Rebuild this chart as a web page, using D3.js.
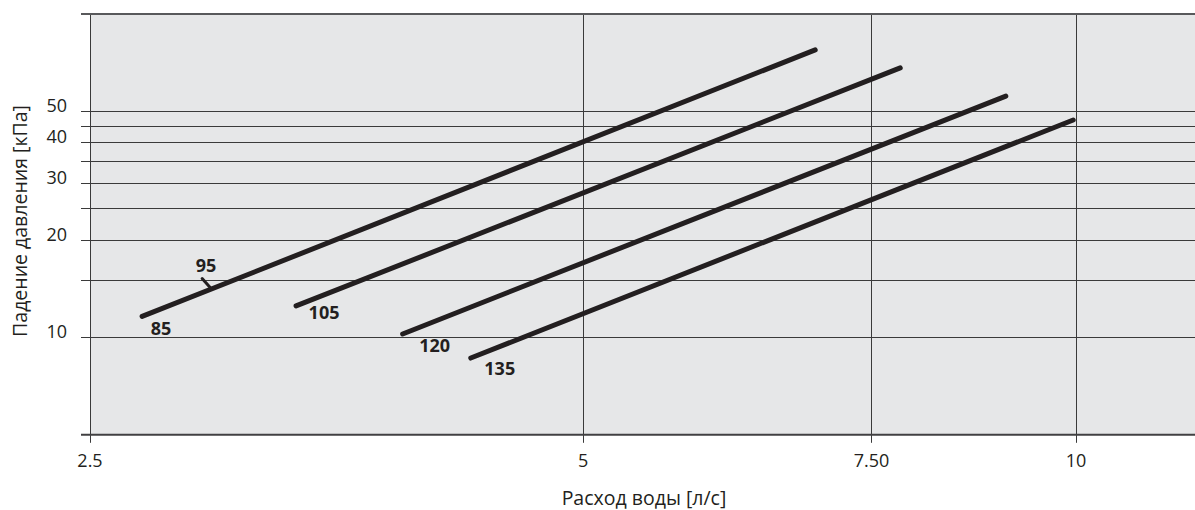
<!DOCTYPE html>
<html>
<head>
<meta charset="utf-8">
<script src="https://cdn.jsdelivr.net/npm/d3@7"></script>
<style>
  html, body { margin: 0; padding: 0; background: #ffffff; }
  svg { display: block; }
  text { font-family: "Open Sans", "Noto Sans", sans-serif; fill: #231f20; }
</style>
</head>
<body>
<svg id="chart" width="1195" height="510"></svg>
<script>
// ---- data ----
const xDomain = [2.5, 11.82];
const yDomain = [5, 100];
const xTickValues = [2.5, 5, 7.5, 10];
const xTickLabels = ["2.5", "5", "7.50", "10"];
const yGridValues = [10, 15, 20, 25, 30, 35, 40, 45, 50];
const yTickValues = [10, 20, 30, 40, 50];
const yTickLabels = ["10", "20", "30", "40", "50"];
const seriesNames = ["85", "105", "120", "135"];
const flowStart = [2.69, 3.34, 3.88, 4.27];
const flowEnd = [6.93, 7.81, 9.06, 9.96];
const dropStart = [11.6, 12.5, 10.24, 8.63];
const dropEnd = [77.2, 67.9, 55.6, 46.9];
const markerName = "95";
const markerFlow = 2.96;
const xTitle = "Расход воды [л/с]";
const yTitle = "Падение давления [кПа]";

// ---- layout ----
const plotL = 90, plotR = 1195, plotT = 13.5, plotB = 434.8;
const labelOffset = [[19, 12], [28, 6], [32, 11], [29, 10]];

const svg = d3.select("#chart");
const x = d3.scaleLog().domain(xDomain).range([plotL, plotR]);
const y = d3.scaleLog().domain(yDomain).range([plotB, plotT]);

// background
svg.append("rect").attr("x", plotL).attr("y", plotT)
  .attr("width", plotR - plotL).attr("height", plotB - plotT)
  .attr("fill", "#e6e7e8");

// horizontal grid + left ticks
svg.append("g").selectAll("line").data(yGridValues).enter().append("line")
  .attr("x1", plotL - 9).attr("x2", plotR)
  .attr("y1", d => Math.round(y(d)) + 0.5).attr("y2", d => Math.round(y(d)) + 0.5)
  .attr("stroke", "#3a3a3a").attr("stroke-width", 1);

// vertical grid + bottom ticks
svg.append("g").selectAll("line").data(xTickValues).enter().append("line")
  .attr("x1", d => Math.round(x(d)) + 0.5).attr("x2", d => Math.round(x(d)) + 0.5)
  .attr("y1", plotT).attr("y2", plotB + 8)
  .attr("stroke", "#3a3a3a").attr("stroke-width", 1);

// top and bottom borders
svg.append("line").attr("x1", plotL - 9).attr("x2", plotR)
  .attr("y1", 14).attr("y2", 14).attr("stroke", "#58595b").attr("stroke-width", 2);
svg.append("line").attr("x1", plotL - 9).attr("x2", plotR)
  .attr("y1", plotB).attr("y2", plotB).attr("stroke", "#414042").attr("stroke-width", 2);

// y tick labels
svg.append("g").selectAll("text").data(yTickValues).enter().append("text")
  .attr("x", 67).attr("y", d => y(d) + 1)
  .attr("text-anchor", "end")
  .attr("font-size", 18)
  .text((d, i) => yTickLabels[i]);

// x tick labels
svg.append("g").selectAll("text").data(xTickValues).enter().append("text")
  .attr("x", d => x(d)).attr("y", 467)
  .attr("text-anchor", "middle")
  .attr("font-size", 18)
  .text((d, i) => xTickLabels[i]);

// axis titles
svg.append("text").attr("x", 644).attr("y", 505)
  .attr("text-anchor", "middle").attr("font-size", 19.5).text(xTitle);
svg.append("text")
  .attr("transform", "translate(27,221) rotate(-90)")
  .attr("text-anchor", "middle").attr("font-size", 19.5).text(yTitle);

// series lines
const lines = seriesNames.map((n, i) => ({
  name: n,
  pts: [[flowStart[i], dropStart[i]], [flowEnd[i], dropEnd[i]]]
}));
const lineGen = d3.line().x(d => x(d[0])).y(d => y(d[1]));
svg.append("g").selectAll("path").data(lines).enter().append("path")
  .attr("d", d => lineGen(d.pts))
  .attr("fill", "none").attr("stroke", "#231f20")
  .attr("stroke-width", 5).attr("stroke-linecap", "round");

// series labels
svg.append("g").selectAll("text").data(lines).enter().append("text")
  .attr("x", (d, i) => x(d.pts[0][0]) + labelOffset[i][0])
  .attr("y", (d, i) => y(d.pts[0][1]) + labelOffset[i][1])
  .attr("text-anchor", "middle").attr("dominant-baseline", "central")
  .attr("font-size", 18).attr("font-weight", "bold")
  .text(d => d.name);

// marker on first line
const tm = Math.log(markerFlow / flowStart[0]) / Math.log(flowEnd[0] / flowStart[0]);
const markerDrop = Math.exp(Math.log(dropStart[0]) + tm * Math.log(dropEnd[0] / dropStart[0]));
const mx = x(markerFlow), my = y(markerDrop);
svg.append("line").attr("x1", mx).attr("y1", my - 2)
  .attr("x2", mx - 8).attr("y2", my - 11)
  .attr("stroke", "#231f20").attr("stroke-width", 3).attr("stroke-linecap", "round");
svg.append("text").attr("x", mx - 4).attr("y", my - 25)
  .attr("text-anchor", "middle").attr("dominant-baseline", "central")
  .attr("font-size", 18).attr("font-weight", "bold")
  .text(markerName);
</script>
</body>
</html>
